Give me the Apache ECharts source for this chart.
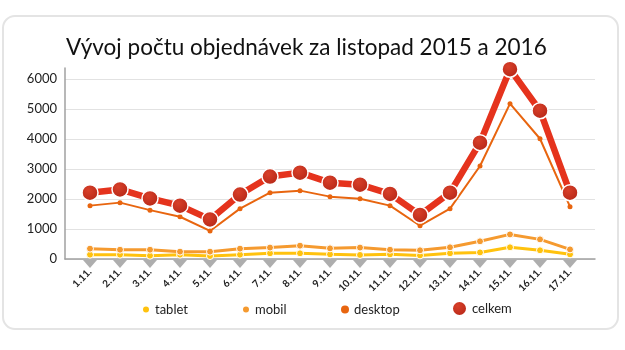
<!DOCTYPE html>
<html>
<head>
<meta charset="utf-8">
<script src="https://cdn.jsdelivr.net/npm/echarts@6/dist/echarts.min.js"></script>
<style>
  html, body { margin: 0; padding: 0; background: #fff; }
  #chart { width: 625px; height: 350px; }
</style>
</head>
<body>
<div id="chart"></div>
<script>
const categories = ['1.11.', '2.11.', '3.11.', '4.11.', '5.11.', '6.11.', '7.11.', '8.11.', '9.11.',
  '10.11.', '11.11.', '12.11.', '13.11.', '14.11.', '15.11.', '16.11.', '17.11.']
const tablet = [145, 145, 110, 145, 100, 145, 190, 190, 155, 135, 155, 120, 190, 220, 390, 290, 155]
const mobil = [345, 310, 310, 245, 245, 345, 380, 445, 355, 380, 310, 290, 390, 590, 820, 655, 320]
const desktop = [1780, 1880, 1630, 1410, 935, 1680, 2210, 2280, 2080, 2010, 1780, 1110, 1680, 3100, 5180, 4010, 1745]
const celkem = [2210, 2320, 2020, 1780, 1320, 2150, 2750, 2880, 2545, 2480, 2170, 1470, 2210, 3880, 6330, 4945, 2210]
const yTicks = [0, 1000, 2000, 3000, 4000, 5000, 6000]
const tickMarks = categories.map(() => 0)

const chart = echarts.init(document.getElementById('chart'))
const yMax = 6370
const font = 'Lato'

function smallLine (name, data, color, width, size, border) {
  return {
    name: name,
    type: 'line',
    xAxisIndex: 1,
    yAxisIndex: 1,
    data: data,
    symbol: 'circle',
    symbolSize: size,
    clip: false,
    lineStyle: { color: color, width: width },
    itemStyle: { color: color, borderColor: '#fff', borderWidth: border },
    emphasis: { disabled: true }
  }
}

function legendItem (name, left, top, size) {
  return {
    data: [name],
    left: left,
    top: top,
    icon: 'circle',
    itemWidth: size,
    itemHeight: size,
    textStyle: { fontFamily: font, fontSize: 13, color: '#222' }
  }
}

chart.setOption({
  animation: false,
  title: {
    text: 'Vývoj počtu objednávek za listopad 2015 a 2016',
    left: 61,
    top: 31,
    textStyle: { fontFamily: font, fontSize: 22.5, fontWeight: 'normal', color: '#111' }
  },
  graphic: [{
    type: 'rect',
    shape: { x: 3, y: 16, width: 615, height: 313, r: 12 },
    style: { fill: 'none', stroke: '#e4e4e4', lineWidth: 2 },
    silent: true,
    z: -10
  }],
  legend: [
    legendItem('tablet', 136, 298, 8),
    legendItem('mobil', 236, 298, 8),
    legendItem('desktop', 336, 298, 8),
    legendItem('celkem', 446, 295, 15)
  ],
  grid: [
    { left: 65, right: 30, top: 68, bottom: 91 },
    { left: 90, right: 55, top: 68, bottom: 91 }
  ],
  xAxis: [{
    gridIndex: 0,
    type: 'value',
    min: 0,
    max: 1,
    axisLine: { show: true, lineStyle: { color: '#a0a0a0', width: 1.5 } },
    axisTick: { show: false },
    axisLabel: { show: false },
    splitLine: { show: false }
  }, {
    gridIndex: 1,
    type: 'category',
    data: categories,
    boundaryGap: false,
    axisLine: { show: false },
    axisTick: { show: false },
    axisLabel: {
      rotate: 45,
      margin: 11,
      interval: 0,
      fontFamily: font,
      fontSize: 10,
      fontWeight: 'bold',
      color: '#222'
    }
  }],
  yAxis: [{
    gridIndex: 0,
    type: 'value',
    min: 0,
    max: yMax,
    interval: 1000,
    axisLine: { show: true, lineStyle: { color: '#a0a0a0', width: 1.5 } },
    axisTick: { show: false },
    axisLabel: {
      margin: 8,
      fontFamily: font,
      fontSize: 13,
      color: '#222',
      showMaxLabel: false,
      formatter: v => yTicks.indexOf(v) >= 0 ? String(v) : ''
    },
    splitLine: {
      lineStyle: { color: ['#e2e2e2', '#e2e2e2', '#e2e2e2', '#e2e2e2', '#e2e2e2', '#e2e2e2', '#e2e2e2', 'rgba(0,0,0,0)'] }
    }
  }, {
    gridIndex: 1,
    type: 'value',
    min: 0,
    max: yMax,
    interval: 1000,
    show: false,
    splitLine: { show: false }
  }],
  series: [
    {
      name: 'ticks',
      type: 'scatter',
      xAxisIndex: 1,
      yAxisIndex: 1,
      data: tickMarks,
      symbol: 'triangle',
      symbolRotate: 180,
      symbolSize: [14, 8],
      symbolOffset: [0, 5],
      clip: false,
      silent: true,
      itemStyle: { color: '#9a9a9a' },
      z: 1
    },
    smallLine('tablet', tablet, '#ffc20e', 3, 7, 1),
    smallLine('mobil', mobil, '#f59a2f', 3, 7, 1),
    smallLine('desktop', desktop, '#e8650f', 2, 5, 0),
    {
      name: 'celkem',
      type: 'line',
      xAxisIndex: 1,
      yAxisIndex: 1,
      data: celkem,
      symbol: 'circle',
      symbolSize: 16,
      clip: false,
      z: 5,
      lineStyle: { color: '#e5331d', width: 6.5 },
      itemStyle: {
        color: new echarts.graphic.RadialGradient(0.4, 0.35, 0.7, [
          { offset: 0, color: '#d8402a' },
          { offset: 1, color: '#b52616' }
        ]),
        borderColor: '#fff',
        borderWidth: 1.5
      },
      emphasis: { disabled: true }
    }
  ]
})
</script>
</body>
</html>
